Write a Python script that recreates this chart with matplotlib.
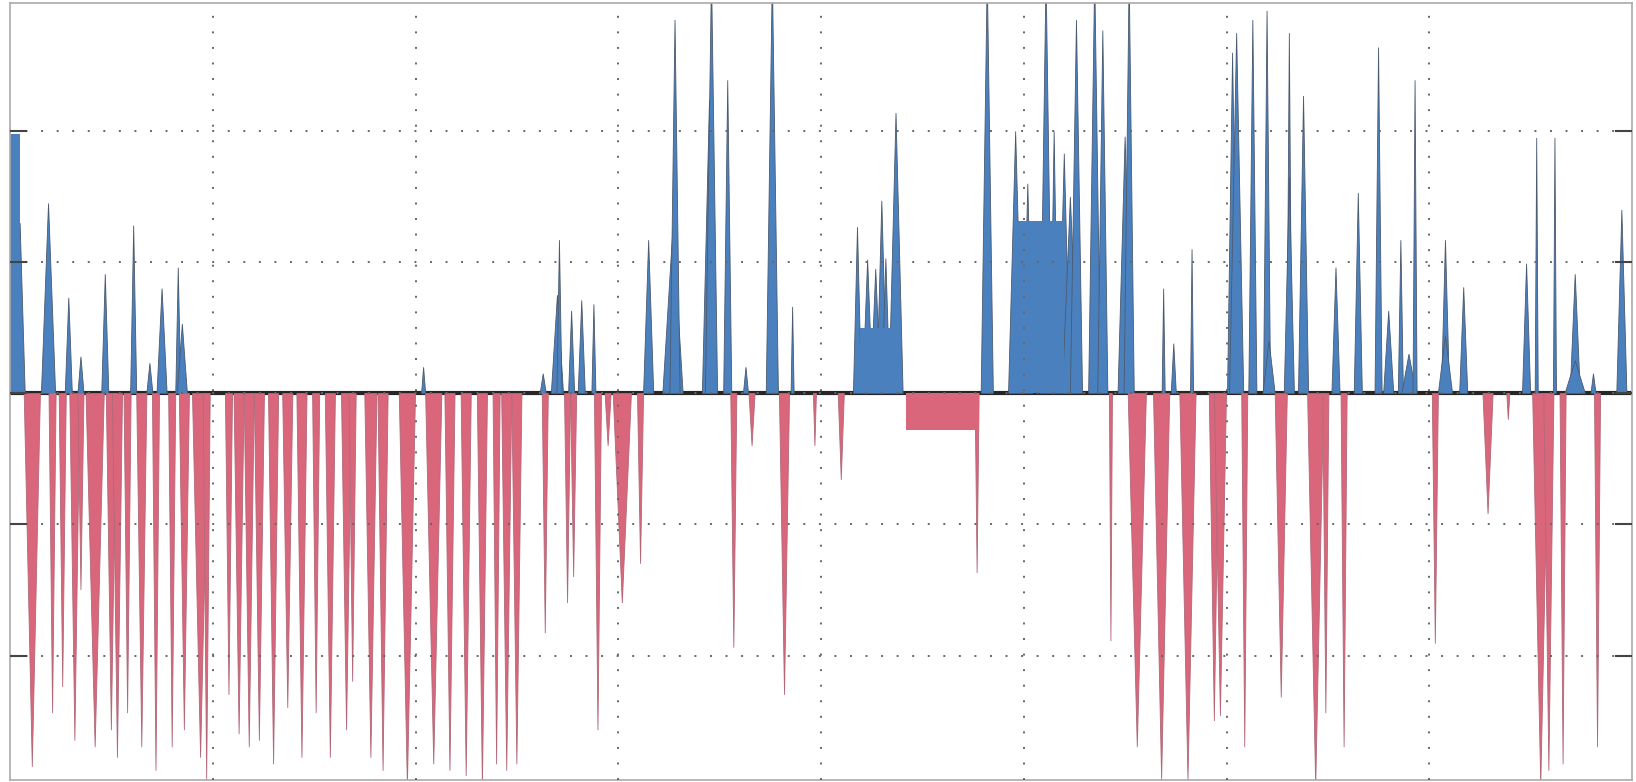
import matplotlib.pyplot as plt

# positive spikes: centre, height, base width (x in grid units)
pos_x = [0.05, 0.19, 0.29, 0.35, 0.47, 0.61, 0.69, 0.75, 0.83, 0.85,
         2.04, 2.63, 2.70, 2.71, 2.77, 2.82, 2.88,
         3.15, 3.27, 3.28, 3.45, 3.46, 3.54, 3.63, 3.76, 3.86,
         4.18, 4.23, 4.27, 4.30, 4.32, 4.37, 4.82,
         4.96, 5.02, 5.11, 5.15, 5.20, 5.23, 5.26, 5.35, 5.39, 5.50, 5.52,
         5.69, 5.74, 5.83,
         6.03, 6.05, 6.13, 6.20, 6.21, 6.31, 6.31, 6.38, 6.54, 6.65, 6.75,
         6.80, 6.86, 6.90, 6.93, 7.08, 7.08, 7.17, 7.48, 7.53, 7.62, 7.72,
         7.72, 7.81, 7.95]
pos_h = [1.30, 1.45, 0.73, 0.28, 0.91, 1.28, 0.23, 0.80, 0.96, 0.53,
         0.20, 0.15, 0.75, 1.17, 0.63, 0.71, 0.68,
         1.17, 1.27, 2.85, 2.24, 3.20, 2.39, 0.20, 3.20, 0.66,
         1.27, 1.02, 0.95, 1.47, 1.03, 2.14, 3.20,
         2.00, 1.60, 3.20, 2.00, 1.83, 1.50, 2.85, 3.20, 2.77, 1.96, 3.20,
         0.80, 0.38, 1.10,
         2.60, 2.75, 2.85, 2.92, 0.40, 2.75, 1.65, 2.27, 0.96, 1.53, 2.64,
         0.63, 1.17, 0.30, 2.39, 1.17, 0.44, 0.81, 0.99, 1.95, 1.95, 0.91,
         0.25, 0.15, 1.40]
pos_w = [0.05, 0.07, 0.035, 0.03, 0.035, 0.03, 0.03, 0.05, 0.025, 0.05,
         0.02, 0.03, 0.06, 0.025, 0.03, 0.035, 0.02,
         0.05, 0.10, 0.05, 0.07, 0.06, 0.04, 0.025, 0.06, 0.015,
         0.04, 0.05, 0.05, 0.05, 0.04, 0.07, 0.06,
         0.07, 0.05, 0.06, 0.04, 0.06, 0.08, 0.06, 0.06, 0.05, 0.07, 0.05,
         0.015, 0.025, 0.015,
         0.05, 0.07, 0.04, 0.035, 0.06, 0.025, 0.05, 0.05, 0.04, 0.04, 0.035,
         0.05, 0.025, 0.07, 0.02, 0.04, 0.07, 0.04, 0.04, 0.015, 0.015, 0.05,
         0.10, 0.025, 0.05]

# negative spikes
neg_x = [0.11, 0.21, 0.26, 0.32, 0.35, 0.42, 0.50, 0.53, 0.58, 0.65,
         0.72, 0.80, 0.86, 0.94, 0.97, 1.08, 1.13, 1.18, 1.23, 1.30,
         1.37, 1.44, 1.51, 1.58, 1.66, 1.69, 1.78, 1.84, 1.96, 2.09,
         2.17, 2.25, 2.33, 2.40, 2.45, 2.50, 2.64, 2.75, 2.78, 2.90,
         2.95, 3.02, 3.11, 3.57, 3.66, 3.82, 3.97, 4.10, 4.77, 5.43,
         5.56, 5.68, 5.81, 5.94, 5.97, 6.09, 6.27, 6.44, 6.49, 6.58,
         7.03, 7.29, 7.39, 7.55, 7.59, 7.66, 7.83]
neg_h = [-2.85, -2.44, -2.24, -2.65, -1.50, -2.70, -2.57, -2.78, -2.44, -2.70,
         -2.88, -2.70, -2.57, -2.78, -2.95, -2.30, -2.60, -2.70, -2.65, -2.83,
         -2.40, -2.78, -2.44, -2.78, -2.57, -2.20, -2.78, -2.88, -3.00, -2.83,
         -2.88, -2.92, -3.00, -2.83, -2.88, -2.83, -1.83, -1.60, -1.40, -2.57,
         -0.40, -1.60, -1.30, -1.94, -0.40, -2.30, -0.40, -0.66, -1.37, -1.89,
         -2.70, -2.95, -2.95, -2.50, -2.46, -2.70, -2.32, -3.00, -2.44, -2.70,
         -1.91, -0.92, -0.20, -3.00, -2.88, -2.83, -2.70]
neg_w = [0.08, 0.035, 0.035, 0.05, 0.03, 0.09, 0.05, 0.05, 0.035, 0.05,
         0.035, 0.035, 0.05, 0.08, 0.035, 0.035, 0.05, 0.05, 0.05, 0.05,
         0.05, 0.05, 0.035, 0.05, 0.05, 0.035, 0.06, 0.05, 0.08, 0.08,
         0.05, 0.05, 0.05, 0.035, 0.05, 0.05, 0.03, 0.03, 0.03, 0.035,
         0.03, 0.09, 0.03, 0.03, 0.03, 0.05, 0.015, 0.03, 0.02, 0.015,
         0.09, 0.08, 0.08, 0.05, 0.06, 0.03, 0.06, 0.08, 0.03, 0.03,
         0.03, 0.05, 0.015, 0.08, 0.05, 0.03, 0.03]

# flat stretches: start, end, level
block_x0 = [0.00, 4.19, 4.95, 4.42]
block_x1 = [0.05, 4.39, 5.20, 4.78]
block_h = [1.98, 0.50, 1.32, -0.28]

blue = '#4a80be'
red = '#da667c'

fig = plt.figure(figsize=(16.36, 7.82), dpi=100)
ax = fig.add_axes([10 / 1636, 2 / 782, 1622 / 1636, 777 / 782])

for x, h, w in zip(pos_x, pos_h, pos_w):
    ax.fill([x - w / 2, x, x + w / 2], [0, h, 0], facecolor=blue,
            edgecolor='#4a5a70', lw=0.6, zorder=1)
for x, h, w in zip(neg_x, neg_h, neg_w):
    ax.fill([x - w / 2, x, x + w / 2], [0, h, 0], facecolor=red,
            edgecolor='#b06878', lw=0.6, zorder=1)
for x0, x1, h in zip(block_x0, block_x1, block_h):
    ax.fill([x0, x0, x1, x1], [0, h, h, 0], color=blue if h > 0 else red,
            lw=0, zorder=1)

# zero level of the signal
ax.axhline(0, color='#262626', lw=3, zorder=0.9)

ax.set_xlim(0, 8)
ax.set_ylim(-2.95, 2.98)
ax.set_xticks(range(1, 8))
ax.set_yticks([-2, -1, 0, 1, 2])
ax.set_axisbelow(False)
ax.grid(True, color='#666666', lw=1.4, ls=(0, (1, 7)))
ax.tick_params(axis='x', length=0, labelbottom=False)
ax.tick_params(axis='y', direction='in', length=12, width=1.5, color='#444444',
               left=True, right=True, labelleft=False)
for s in ax.spines.values():
    s.set_color('#aaaaaa')
    s.set_linewidth(1.2)

plt.savefig('out.png')
